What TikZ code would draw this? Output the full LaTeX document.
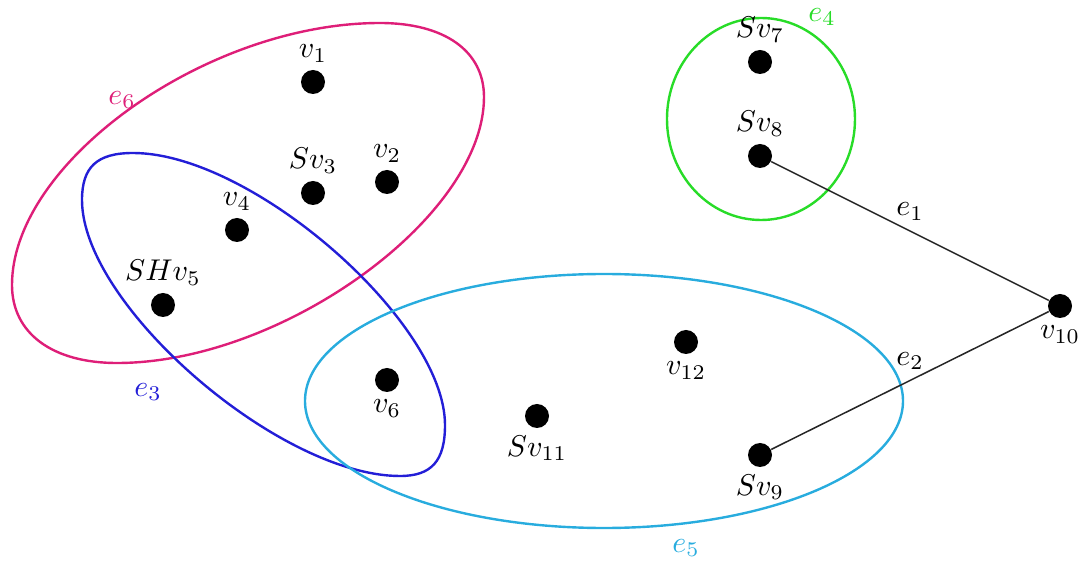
\documentclass[tikz,border=0pt]{standalone}
\begin{document}
\begin{tikzpicture}[x=0.3333pt,y=0.3333pt,
  vtx/.style={circle,fill=black,inner sep=0pt,minimum size=8pt},
  hedge/.style={line width=0.8pt},
  edgeline/.style={line width=0.5pt,draw=black!85},
  every label/.style={label distance=-1.2pt}]
\definecolor{cmag}{RGB}{222,30,120}
\definecolor{cblue}{RGB}{35,30,215}
\definecolor{ccyan}{RGB}{40,172,222}
\definecolor{cgreen}{RGB}{40,220,40}
\useasboundingbox (0,0) rectangle (1080,-561);
% hyperedges
\draw[hedge,cmag] (380,-23) .. controls (444.5,-23) and (484,-51) .. (484,-97)
  .. controls (484,-217) and (282,-363) .. (117,-363)
  .. controls (52,-363) and (12,-333) .. (12,-285)
  .. controls (12,-162) and (207,-23) .. cycle;
\draw[hedge,cblue] (133,-153) .. controls (252,-153) and (445,-322) .. (445,-425)
  .. controls (445,-461) and (431.5,-476) .. (400,-476)
  .. controls (279,-476) and (82,-305) .. (82,-200)
  .. controls (82,-167) and (97,-153) .. cycle;
\draw[hedge,ccyan] (604,-401) ellipse [x radius=299,y radius=127];
\draw[hedge,cgreen] (761,-119) ellipse [x radius=94,y radius=101];
\node[cmag] (le6) at (122,-100) {$e_6$};
\node[cblue] (le3) at (148,-392) {$e_3$};
\node[ccyan] (le5) at (686,-548) {$e_5$};
\node[cgreen] (le4) at (822,-17) {$e_4$};
% vertices
\node[vtx,label=above:$v_1$] (v1) at (313,-82) {};
\node[vtx,label=above:$v_2$] (v2) at (387,-182) {};
\node[vtx,label=above:$Sv_3$] (v3) at (313,-193) {};
\node[vtx,label=above:$v_4$] (v4) at (237,-230) {};
\node[vtx,label=above:$SHv_5$] (v5) at (163,-305) {};
\node[vtx,label=below:$v_6$] (v6) at (387,-380) {};
\node[vtx,label=above:$Sv_7$] (v7) at (760,-62) {};
\node[vtx,label=above:$Sv_8$] (v8) at (760,-156) {};
\node[vtx,label=below:$Sv_9$] (v9) at (760,-455) {};
\node[vtx,label=below:$v_{10}$] (v10) at (1060,-306) {};
\node[vtx,label=below:$Sv_{11}$] (v11) at (537,-416) {};
\node[vtx,label=below:$v_{12}$] (v12) at (686,-342) {};
% edges
\draw[edgeline] (v8) -- node[midway,above] {$e_1$} (v10);
\draw[edgeline] (v9) -- node[midway,above] {$e_2$} (v10);
\end{tikzpicture}
\end{document}
